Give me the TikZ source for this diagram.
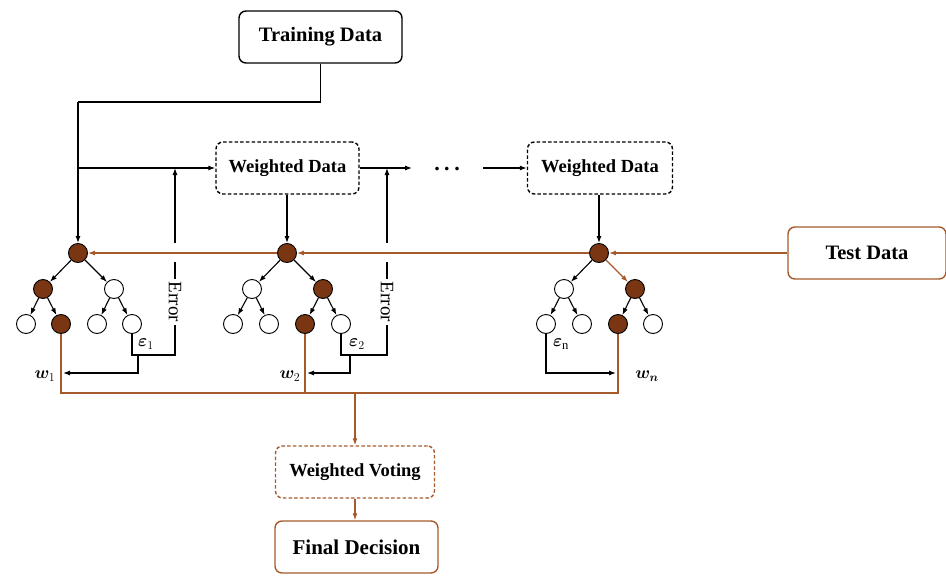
\documentclass[tikz,border=0pt]{standalone}
\usepackage{amsmath,bm}
\usepackage{fontspec}
\setmainfont{Liberation Serif}
\usetikzlibrary{arrows.meta}
\definecolor{bark}{HTML}{7A3612}
\definecolor{rust}{HTML}{A65A2C}
\begin{document}
\begin{tikzpicture}[x=1pt,y=-1pt,
  tip/.style={-{Latex[length=7pt,width=5pt]}},
  link/.style={line width=1.1pt,draw=black},
  vote/.style={line width=1.2pt,draw=rust},
  box/.style={rounded corners=7pt,line width=1.4pt,minimum height=52pt,inner sep=0pt,font=\bfseries},
  solidbox/.style={box,draw=black},
  dashbox/.style={box,draw=black,dash pattern=on 3.5pt off 2.2pt},
  full/.style={circle,draw=black,line width=0.9pt,fill=bark,minimum size=19pt,inner sep=0pt},
  empty/.style={circle,draw=black,line width=0.9pt,fill=white,minimum size=19pt,inner sep=0pt},
  lbl/.style={inner sep=1pt,font=\fontsize{18}{20}\selectfont}
]
\useasboundingbox (0,0) rectangle (946,576);

% data boxes
\node[solidbox,minimum width=163pt,font=\bfseries\fontsize{20.5}{24}\selectfont] (train) at (320.5,37) {Training Data};
\node[dashbox,minimum width=143pt,font=\bfseries\fontsize{18.5}{22}\selectfont] (wd1) at (287.5,168) {Weighted Data};
\node[dashbox,minimum width=145pt,font=\bfseries\fontsize{18.5}{22}\selectfont] (wd3) at (600,168) {Weighted Data};
\node[box,draw=rust,minimum width=158pt,font=\bfseries\fontsize{20.5}{24}\selectfont] (test) at (867,253) {Test Data};
\node[box,draw=rust,dash pattern=on 3.5pt off 2.2pt,minimum width=159pt,font=\bfseries\fontsize{18.5}{22}\selectfont] (vote) at (355,472) {Weighted Voting};
\node[box,draw=rust,minimum width=163pt,font=\bfseries\fontsize{21}{24}\selectfont] (final) at (356.5,547) {Final Decision};
\node[anchor=base,inner sep=0pt,font=\bfseries\fontsize{22}{22}\selectfont] (dots) at (447,170) {.\hspace{4.5pt}.\hspace{4.5pt}.};

% tree 1
\node[full]  (t1r)  at (78,253) {};
\node[full]  (t1a)  at (43,289) {};
\node[empty] (t1b)  at (114,289) {};
\node[empty] (t1aa) at (26,324) {};
\node[full]  (t1ab) at (61,324) {};
\node[empty] (t1ba) at (97,324) {};
\node[empty] (t1bb) at (132,324) {};
% tree 2
\node[full]  (t2r)  at (287,253) {};
\node[empty] (t2a)  at (252,289) {};
\node[full]  (t2b)  at (323,289) {};
\node[empty] (t2aa) at (233,324) {};
\node[empty] (t2ab) at (269,324) {};
\node[full]  (t2ba) at (305,324) {};
\node[empty] (t2bb) at (341,324) {};
% tree n
\node[full]  (t3r)  at (599,253) {};
\node[empty] (t3a)  at (564,289) {};
\node[full]  (t3b)  at (635,289) {};
\node[empty] (t3aa) at (546,324) {};
\node[empty] (t3ab) at (582,324) {};
\node[full]  (t3ba) at (618,324) {};
\node[empty] (t3bb) at (653,324) {};

\foreach \t in {t1,t2,t3}{
  \draw[link,tip] (\t a) -- (\t aa);
  \draw[link,tip] (\t a) -- (\t ab);
  \draw[link,tip] (\t b) -- (\t ba);
  \draw[link,tip] (\t b) -- (\t bb);
  \draw[link,tip] (\t r) -- (\t a);
}
\draw[link,tip] (t1r) -- (t1b);
\draw[link,tip] (t2r) -- (t2b);
\draw[vote,tip] (t3r) -- (t3b);

% training flow
\coordinate (bend) at (78,102);
\coordinate (tap) at (78,168);
\coordinate (gap1) at (412,168);
\coordinate (gap2) at (483,168);
\draw[link] (train.south) |- (bend);
\draw[link,tip] (bend) -- (t1r.north);
\draw[link,tip] (tap) -- (wd1.west);
\draw[link,tip] (t2r |- wd1.south) -- (t2r.north);
\draw[link,tip] (wd1.east) -- (gap1);
\draw[link,tip] (gap2) -- (wd3.west);
\draw[link,tip] (t3r |- wd3.south) -- (t3r.north);

% error feedback
\coordinate (e1) at (175,355);
\coordinate (e2) at (387,355);
\coordinate (m1) at (138,355);
\coordinate (m2) at (350,355);
\coordinate (w1in) at (63,373);
\coordinate (w2in) at (307,373);
\coordinate (wnin) at (616,373);
\draw[link,tip] (t1bb.south) |- (e1) -- (e1 |- tap);
\draw[link,tip] (t2bb.south) |- (e2) -- (e2 |- tap);
\draw[link,tip] (m1) |- (w1in);
\draw[link,tip] (m2) |- (w2in);
\draw[link,tip] (t3aa.south) |- (wnin);
\fill[white] (171,243) rectangle (179,262);
\fill[white] (383,243) rectangle (391,262);
\node[rotate=-90,fill=white,inner sep=2.5pt,font=\fontsize{19}{20}\selectfont] (err1) at (175,302) {Error};
\node[rotate=-90,fill=white,inner sep=2.5pt,font=\fontsize{19}{20}\selectfont] (err2) at (387,302) {Error};

% labels
\node[lbl] (eps1) at (146,344) {$\boldsymbol{\varepsilon}_{1}$};
\node[lbl] (eps2) at (357,344) {$\boldsymbol{\varepsilon}_{2}$};
\node[lbl] (epsn) at (561,344) {$\boldsymbol{\varepsilon}_{\mathrm{n}}$};
\node[lbl] (w1) at (45,376) {$\boldsymbol{w}_{1}$};
\node[lbl] (w2) at (290,376) {$\boldsymbol{w}_{2}$};
\node[lbl] (wn) at (647,376) {$\boldsymbol{w}_{\boldsymbol{n}}$};

% test data path
\draw[vote,tip] (test.west) -- (t3r.east);
\draw[vote,tip] (t3r.west) -- (t2r.east);
\draw[vote,tip] (t2r.west) -- (t1r.east);

% weighted voting bus
\coordinate (busL) at (61,393);
\coordinate (busR) at (618,393);
\draw[vote] (t1ab.south) -- (busL) -- (busR) -- (t3ba.south);
\draw[vote] (t2ba.south) -- (t2ba.south |- busL);
\draw[vote,tip] (vote.north |- busL) -- (vote.north);
\draw[vote,tip] (vote.south) -- (vote.south |- final.north);
\end{tikzpicture}
\end{document}
